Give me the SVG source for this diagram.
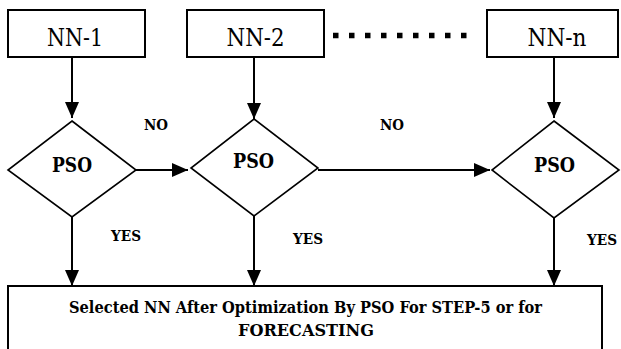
<svg xmlns="http://www.w3.org/2000/svg" width="621" height="349" viewBox="0 0 621 349">
<style>
  .box { fill: #fff; stroke: #000; stroke-width: 2; }
  .dia { fill: #fff; stroke: #000; stroke-width: 1.6; }
  .ln { fill: none; stroke: #000; stroke-width: 2; }
  text { fill: #000; font-family: 'DejaVu Serif', 'Liberation Serif', serif; }
  .nn { font-size: 23.5px; text-anchor: middle; }
  .pso { font-size: 20px; font-weight: bold; text-anchor: middle; }
  .lbl { font-size: 14px; font-weight: bold; }
  .big { font-size: 16.5px; font-weight: bold; text-anchor: middle; }
</style>
<defs>
  <marker id="ah" viewBox="0 0 16 14" refX="16" refY="7" markerWidth="16" markerHeight="14" markerUnits="userSpaceOnUse" orient="auto">
    <path d="M0,0 L16,7 L0,14 Z" fill="#000"/>
  </marker>
</defs>
<rect width="621" height="349" fill="#fff"/>

<g id="nn1">
  <rect class="box" x="8" y="10" width="137" height="47"/>
  <text class="nn" x="75" y="46" textLength="56" lengthAdjust="spacingAndGlyphs">NN-1</text>
</g>
<g id="nn2">
  <rect class="box" x="187" y="10" width="137" height="47"/>
  <text class="nn" x="255.5" y="46" textLength="58" lengthAdjust="spacingAndGlyphs">NN-2</text>
</g>
<g id="nnn">
  <rect class="box" x="487" y="10" width="131" height="47"/>
  <text class="nn" x="557" y="46" textLength="59" lengthAdjust="spacingAndGlyphs">NN-n</text>
</g>
<g id="dots">
  <line x1="333" y1="35.5" x2="470" y2="35.5" stroke="#000" stroke-width="5.5" stroke-dasharray="5.5 10.5"/>
</g>

<g id="pso1">
  <polygon class="dia" points="72,121 136,170 72,217 8,170"/>
  <text class="pso" x="72" y="172" textLength="40" lengthAdjust="spacingAndGlyphs">PSO</text>
</g>
<g id="pso2">
  <polygon class="dia" points="254,119 318,168 254,216 191,168"/>
  <text class="pso" x="253.5" y="168" textLength="41" lengthAdjust="spacingAndGlyphs">PSO</text>
</g>
<g id="pso3">
  <polygon class="dia" points="554,121 619,170 554,218 492,170"/>
  <text class="pso" x="554.5" y="172" textLength="41" lengthAdjust="spacingAndGlyphs">PSO</text>
</g>

<g id="result">
  <rect class="box" x="8" y="286" width="594" height="80"/>
  <text class="big" x="305.5" y="313" textLength="473" lengthAdjust="spacingAndGlyphs">Selected NN After Optimization By PSO For STEP-5 or for</text>
  <text class="big" x="306" y="336" textLength="136" lengthAdjust="spacingAndGlyphs">FORECASTING</text>
</g>

<g id="connectors">
  <line class="ln" x1="72" y1="57" x2="72" y2="118" marker-end="url(#ah)"/>
  <line class="ln" x1="254" y1="57" x2="254" y2="119" marker-end="url(#ah)"/>
  <line class="ln" x1="554" y1="57" x2="554" y2="118" marker-end="url(#ah)"/>
  <line class="ln" x1="136" y1="170" x2="188" y2="170" marker-end="url(#ah)"/>
  <line class="ln" x1="318" y1="170" x2="490" y2="170" marker-end="url(#ah)"/>
  <line class="ln" x1="72" y1="217" x2="72" y2="286" marker-end="url(#ah)"/>
  <line class="ln" x1="254" y1="216" x2="254" y2="286" marker-end="url(#ah)"/>
  <line class="ln" x1="554" y1="218" x2="554" y2="286" marker-end="url(#ah)"/>
  <text class="lbl" x="144" y="130" textLength="24" lengthAdjust="spacingAndGlyphs">NO</text>
  <text class="lbl" x="380" y="130" textLength="24" lengthAdjust="spacingAndGlyphs">NO</text>
  <text class="lbl" x="111" y="241" textLength="30" lengthAdjust="spacingAndGlyphs">YES</text>
  <text class="lbl" x="293" y="244" textLength="30" lengthAdjust="spacingAndGlyphs">YES</text>
  <text class="lbl" x="587" y="245" textLength="30" lengthAdjust="spacingAndGlyphs">YES</text>
</g>
</svg>
